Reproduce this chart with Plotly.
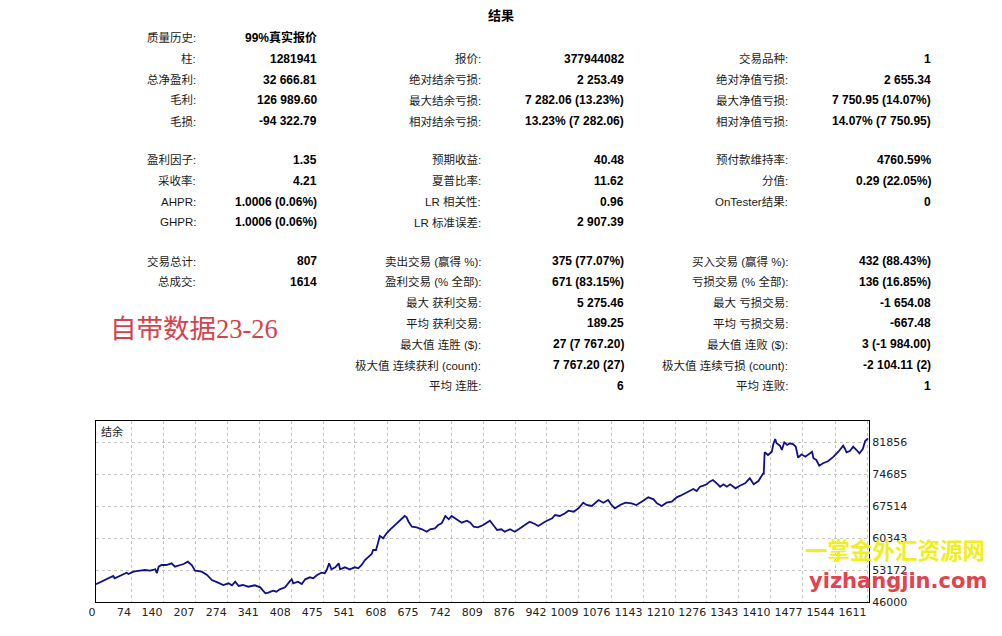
import plotly.graph_objects as go

W, H = 1002, 636
OFF = 8  # the page body has an 8px margin, so the figure sits 8px right and down

# balance curve: deal number -> balance
deal = [0, 12, 23, 36, 39, 50, 64, 68, 78, 92, 102, 113, 124, 127, 131, 137, 147, 158, 165, 176,
        183, 192, 200, 207, 221, 232, 242, 255, 266, 277, 284, 291, 298, 307, 318, 332, 343, 354, 360, 370,
        377, 384, 395, 406, 409, 412, 422, 430, 437, 447, 454, 462, 471, 478, 482, 487, 492, 500, 507, 510,
        520, 530, 541, 548, 555, 562, 569, 576, 579, 585, 588, 593, 600, 607, 615, 628, 638, 645, 649, 653,
        660, 670, 681, 691, 698, 708, 715, 722, 730, 737, 743, 753, 764, 775, 782, 789, 798, 809, 823, 830,
        838, 847, 854, 865, 875, 883, 893, 906, 917, 924, 938, 953, 959, 969, 980, 987, 998, 1008, 1018, 1025,
        1036, 1050, 1060, 1070, 1077, 1084, 1095, 1106, 1119, 1129, 1140, 1154, 1165, 1172, 1182, 1192, 1203, 1213, 1221, 1230,
        1241, 1248, 1255, 1262, 1269, 1276, 1282, 1289, 1297, 1304, 1311, 1318, 1325, 1336, 1345, 1356, 1366, 1374, 1384, 1391,
        1394, 1395, 1397, 1404, 1412, 1415, 1419, 1422, 1429, 1433, 1438, 1444, 1450, 1457, 1462, 1467, 1474, 1482, 1489, 1496,
        1499, 1505, 1511, 1519, 1530, 1541, 1551, 1561, 1565, 1568, 1575, 1582, 1589, 1595, 1602, 1607, 1613]
balance = [50000, 50549, 51087, 51827, 51311, 51827, 52566, 52275, 52790, 53014, 53171, 53014, 53328, 52432, 53911, 54292, 54292, 54673, 53911, 54292,
           54516, 55031, 54292, 53014, 52790, 52051, 50930, 50325, 49810, 50191, 49742, 50549, 49586, 49810, 49429, 49742, 49294, 47950, 48084, 48532,
           48308, 48846, 49294, 50773, 51087, 50191, 50549, 50034, 51087, 51535, 51311, 52051, 52566, 52432, 53171, 54673, 53328, 53776, 54673, 53328,
           53776, 53328, 53776, 53552, 54292, 55412, 56017, 56757, 57653, 57653, 58774, 60791, 60275, 61396, 62292, 63637, 64533, 65273, 64981, 63995,
           62875, 62740, 62292, 61754, 62292, 62516, 63256, 63637, 65273, 64533, 65273, 64533, 63771, 64219, 63771, 62875, 62740, 63256, 64219, 63256,
           62135, 62292, 61754, 62292, 61754, 62292, 63032, 63995, 63480, 63032, 63995, 64757, 65497, 65273, 65877, 66460, 66236, 66998, 68253, 67738,
           67514, 68858, 68253, 68858, 67738, 66998, 67738, 68253, 68119, 67738, 68477, 69463, 69015, 68119, 67514, 68253, 68477, 69463, 69822, 70359,
           70875, 71323, 70875, 71839, 72062, 72376, 72959, 73340, 72600, 71839, 72376, 71839, 72376, 71480, 72062, 72600, 73721, 72376, 73116, 74461,
           74841, 74600, 79548, 78943, 79682, 81341, 82528, 81565, 81027, 80063, 81789, 81184, 81565, 81341, 80803, 78338, 79099, 78562, 79099, 79682,
           78203, 77822, 76545, 77083, 77598, 78562, 79682, 81027, 80287, 79548, 79839, 80803, 80063, 79323, 80287, 82080, 82667]

x_ticks = [0, 74, 140, 207, 274, 341, 408, 475, 541, 608, 675, 742, 809, 876, 942, 1009,
           1076, 1143, 1210, 1276, 1343, 1410, 1477, 1544, 1611]
y_ticks = [46000, 53172, 60343, 67514, 74685, 81856]

# report table, three sections, three columns of (label, value)
sec1 = [
    [("质量历史:", "99%真实报价"), ("柱:", "1281941"), ("总净盈利:", "32 666.81"),
     ("毛利:", "126 989.60"), ("毛损:", "-94 322.79")],
    [None, ("报价:", "377944082"), ("绝对结余亏损:", "2 253.49"),
     ("最大结余亏损:", "7 282.06 (13.23%)"), ("相对结余亏损:", "13.23% (7 282.06)")],
    [None, ("交易品种:", "1"), ("绝对净值亏损:", "2 655.34"),
     ("最大净值亏损:", "7 750.95 (14.07%)"), ("相对净值亏损:", "14.07% (7 750.95)")],
]
sec2 = [
    [("盈利因子:", "1.35"), ("采收率:", "4.21"), ("AHPR:", "1.0006 (0.06%)"), ("GHPR:", "1.0006 (0.06%)")],
    [("预期收益:", "40.48"), ("夏普比率:", "11.62"), ("LR 相关性:", "0.96"), ("LR 标准误差:", "2 907.39")],
    [("预付款维持率:", "4760.59%"), ("分值:", "0.29 (22.05%)"), ("OnTester结果:", "0")],
]
sec3 = [
    [("交易总计:", "807"), ("总成交:", "1614")],
    [("卖出交易 (赢得 %):", "375 (77.07%)"), ("盈利交易 (% 全部):", "671 (83.15%)"),
     ("最大 获利交易:", "5 275.46"), ("平均 获利交易:", "189.25"), ("最大值 连胜 ($):", "27 (7 767.20)"),
     ("极大值 连续获利 (count):", "7 767.20 (27)"), ("平均 连胜:", "6")],
    [("买入交易 (赢得 %):", "432 (88.43%)"), ("亏损交易 (% 全部):", "136 (16.85%)"),
     ("最大 亏损交易:", "-1 654.08"), ("平均 亏损交易:", "-667.48"), ("最大值 连败 ($):", "3 (-1 984.00)"),
     ("极大值 连续亏损 (count):", "-2 104.11 (2)"), ("平均 连败:", "1")],
]

FONT = "Liberation Sans, Noto Sans CJK SC, sans-serif"


def px(x):
    return (x - OFF) / W


def py(y):
    return 1 - (y - OFF) / H


def note(x, y, text, size, color, family=FONT, xanchor="left"):
    return dict(x=px(x), y=py(y), xref="paper", yref="paper", text=text, showarrow=False,
                font=dict(size=size, color=color, family=family),
                xanchor=xanchor, yanchor="middle")


fig = go.Figure()
fig.add_trace(go.Scatter(x=deal, y=balance, mode="lines",
                         line=dict(color="#10108a", width=1.8), hoverinfo="skip"))

ann = [note(501, 16, "<b>结果</b>", 13, "#000", xanchor="center")]

label_right = [198, 483, 790]
value_right = [319, 626, 933]
for sec, y0 in [(sec1, 38), (sec2, 160), (sec3, 261)]:
    for c, col in enumerate(sec):
        for r, item in enumerate(col):
            if item is None:
                continue
            yy = y0 + r * 20.8
            ann.append(note(label_right[c], yy, item[0], 11.5, "#1a1a1a", xanchor="right"))
            ann.append(note(value_right[c], yy, "<b>" + item[1] + "</b>", 12, "#000", xanchor="right"))

ann.append(note(108, 329, "自带数据23-26", 26.5, "#d4434d", family="Liberation Serif, Noto Sans CJK SC, serif"))
ann.append(note(99, 431, "结余", 11, "#222"))

# watermark
ann.append(note(895, 549, "<b>一掌金外汇资源网</b>", 22.5, "#f0ee1e", family="Noto Sans CJK SC", xanchor="center"))
ann.append(note(898, 581, "<b>yizhangjin.com</b>", 21, "#e3434d", family="DejaVu Sans", xanchor="center"))

fig.update_layout(
    width=W, height=H, autosize=False,
    margin=dict(l=0, r=0, t=0, b=0, pad=0),
    paper_bgcolor="white", plot_bgcolor="white",
    showlegend=False,
    annotations=ann,
    xaxis=dict(domain=[px(96), px(869)], range=[0, 1615], automargin=False,
               tickmode="array", tickvals=x_ticks, ticktext=[str(v) for v in x_ticks],
               ticklabelposition="outside left", tickangle=0,
               showgrid=True, gridcolor="#c4c4c4", griddash="3px,3px", gridwidth=1,
               showline=True, mirror=True, linecolor="#000", linewidth=1,
               zeroline=False, ticks="", fixedrange=True,
               tickfont=dict(size=11, color="#222", family="DejaVu Sans")),
    yaxis=dict(domain=[py(602), py(421)], range=[46000, 86562], side="right", automargin=False,
               tickmode="array", tickvals=y_ticks, ticktext=[str(v) for v in y_ticks],
               showgrid=True, gridcolor="#c4c4c4", griddash="3px,3px", gridwidth=1,
               showline=True, mirror=True, linecolor="#000", linewidth=1,
               zeroline=False, ticks="", fixedrange=True,
               tickfont=dict(size=11, color="#222", family="DejaVu Sans")),
)

fig.write_html("out.html")
